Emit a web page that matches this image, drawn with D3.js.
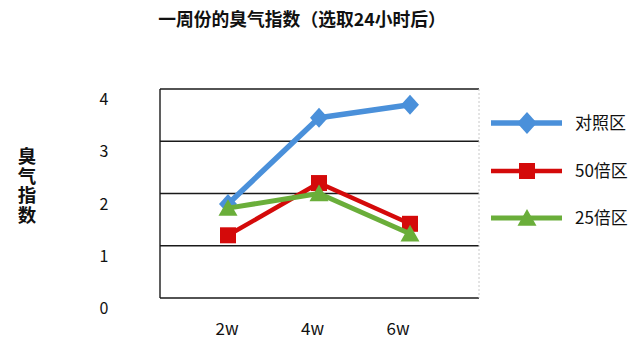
<!DOCTYPE html>
<html>
<head>
<meta charset="utf-8">
<script src="https://cdn.jsdelivr.net/npm/d3@7"></script>
<style>
  html, body { margin: 0; padding: 0; background: #ffffff; }
  svg { display: block; }
  text { font-family: "Noto Sans CJK SC", "Noto Sans", sans-serif; fill: #111; }
</style>
</head>
<body>
<svg id="chart" width="640" height="350"></svg>
<script>
// Odour index over one week, sampled 24 h after treatment
const categories = ["2w", "4w", "6w"];
const seriesNames = ["对照区", "50倍区", "25倍区"];
const controlValues = [1.8, 3.45, 3.7];
const fiftyValues = [1.2, 2.2, 1.42];
const twentyFiveValues = [1.72, 2.0, 1.23];
const yTicks = [0, 1, 2, 3, 4];
const titleText = "一周份的臭气指数（选取24小时后）";
const yTitleText = "臭气指数";

const series = [
  { name: seriesNames[0], values: controlValues, color: "#4A90DA", width: 5.5, marker: "diamond" },
  { name: seriesNames[1], values: fiftyValues, color: "#D40A0A", width: 4.5, marker: "square" },
  { name: seriesNames[2], values: twentyFiveValues, color: "#6AAE3A", width: 5, marker: "triangle" }
];

const svg = d3.select("#chart");
const plot = { left: 160, right: 479, top: 89, bottom: 298 };

const y = d3.scaleLinear().domain([0, 4]).range([plot.bottom, plot.top]);
const x = d3.scalePoint().domain(categories).range([228, 410]);
const xLabel = d3.scalePoint().domain(categories).range([227, 398]);

// Marker path generators centred at (0,0)
function markerPath(type, s) {
  if (type === "diamond") {
    const w = s * 0.9, h = s;
    return `M0,${-h}L${w},0L0,${h}L${-w},0Z`;
  }
  if (type === "square") {
    const h = s * 0.8;
    return `M${-h},${-h}H${h}V${h}H${-h}Z`;
  }
  const w = s * 0.95, h = s * 0.9;
  return `M0,${-h}L${w},${h * 0.85}L${-w},${h * 0.85}Z`;
}

// Title
svg.append("text")
  .attr("x", 302).attr("y", 26)
  .attr("text-anchor", "middle")
  .style("font-size", "17.8px").style("font-weight", "bold")
  .text(titleText);

// Horizontal gridlines and frame
svg.append("g").selectAll("line").data(yTicks).join("line")
  .attr("x1", plot.left).attr("x2", plot.right)
  .attr("y1", d => y(d)).attr("y2", d => y(d))
  .attr("stroke", "#1a1a1a").attr("stroke-width", 1.4);

svg.append("line")
  .attr("x1", plot.left).attr("x2", plot.left)
  .attr("y1", plot.top).attr("y2", plot.bottom)
  .attr("stroke", "#1a1a1a").attr("stroke-width", 1.4);

svg.append("line")
  .attr("x1", plot.right).attr("x2", plot.right)
  .attr("y1", plot.top).attr("y2", plot.bottom)
  .attr("stroke", "#c8c8c8").attr("stroke-width", 1)
  .attr("stroke-dasharray", "2,2");

// Y tick labels
svg.append("g").selectAll("text").data(yTicks).join("text")
  .attr("x", 104).attr("y", d => y(d) + 16)
  .attr("text-anchor", "middle")
  .style("font-size", "16px")
  .text(d => d);

// X tick labels
svg.append("g").selectAll("text").data(categories).join("text")
  .attr("x", d => xLabel(d)).attr("y", 335)
  .attr("text-anchor", "middle")
  .style("font-size", "17px")
  .text(d => d);

// Vertical axis title, set in vertical writing mode
svg.append("text")
  .attr("x", 27).attr("y", 147)
  .style("writing-mode", "vertical-rl")
  .style("text-orientation", "upright")
  .style("font-size", "18.5px").style("font-weight", "bold")
  .style("letter-spacing", "1px")
  .text(yTitleText);

// Series lines and markers
const line = d3.line().x((d, i) => x(categories[i])).y(d => y(d));

series.forEach(s => {
  const g = svg.append("g");
  g.append("path")
    .attr("d", line(s.values))
    .attr("fill", "none")
    .attr("stroke", s.color)
    .attr("stroke-width", s.width)
    .attr("stroke-linejoin", "round");
  g.selectAll("path.m").data(s.values).join("path")
    .attr("class", "m")
    .attr("transform", (d, i) => `translate(${x(categories[i])},${y(d)})`)
    .attr("d", markerPath(s.marker, 10))
    .attr("fill", s.color);
});

// Legend
const legendY = [123, 171, 218];
series.forEach((s, i) => {
  const g = svg.append("g").attr("transform", `translate(0,${legendY[i]})`);
  g.append("line")
    .attr("x1", 491).attr("x2", 562)
    .attr("stroke", s.color).attr("stroke-width", s.width);
  g.append("path")
    .attr("transform", "translate(527,0)")
    .attr("d", markerPath(s.marker, s.marker === "diamond" ? 11 : 10))
    .attr("fill", s.color);
  g.append("text")
    .attr("x", 575).attr("y", 6)
    .style("font-size", "17px")
    .text(s.name);
});
</script>
</body>
</html>
